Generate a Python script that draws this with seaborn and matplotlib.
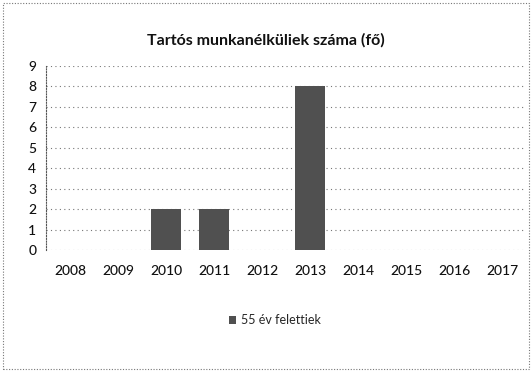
import matplotlib
matplotlib.use("Agg")
import matplotlib.pyplot as plt
from matplotlib.patches import Rectangle, Patch
import seaborn as sns
import pandas as pd

years = ["2008", "2009", "2010", "2011", "2012", "2013", "2014", "2015", "2016", "2017"]
over_55 = [0, 0, 2, 2, 0, 8, 0, 0, 0, 0]
y_ticks = list(range(0, 10))

title = "Tartós munkanélküliek száma (fő)"
series_name = "55 év felettiek"
bar_color = "#505050"

sns.set_theme(style="white")
plt.rcParams["font.family"] = ["Lato", "DejaVu Sans"]

df = pd.DataFrame({"year": years, "value": over_55})

fig = plt.figure(figsize=(5.32, 3.72), dpi=100)
ax = fig.add_axes([46 / 532, 1 - 250 / 372, 480 / 532, 184 / 372])

sns.barplot(data=df, x="year", y="value", color=bar_color, width=0.62,
            saturation=1, edgecolor="none", linewidth=0, ax=ax, zorder=3)

ax.set_ylim(0, 9)
ax.set_yticks(y_ticks)
ax.set_xlim(-0.5, len(years) - 0.5)
ax.yaxis.grid(True, linestyle=(0, (1, 3)), color="#777777", linewidth=0.8, zorder=0)
ax.xaxis.grid(False)
for side in ["top", "right", "bottom"]:
    ax.spines[side].set_visible(False)
ax.spines["left"].set_linestyle((0, (1, 1.5)))
ax.spines["left"].set_color("#555555")
ax.spines["left"].set_linewidth(0.8)
ax.tick_params(axis="x", length=0, labelsize=10, colors="#111111", pad=11)
ax.tick_params(axis="y", length=0, labelsize=10, colors="#111111", pad=7)
for lbl in ax.get_xticklabels() + ax.get_yticklabels():
    lbl.set_fontweight("medium")
ax.set_xlabel("")
ax.set_ylabel("")

fig.text(0.5, 1 - 40 / 372, title, ha="center", va="center", fontsize=11.5,
         fontweight="bold", color="#111111")

handles = [Patch(facecolor=bar_color, edgecolor="none", label=series_name)]
fig.legend(handles=handles, loc="center", bbox_to_anchor=(275 / 532, 1 - 320 / 372),
           frameon=False, fontsize=9, handlelength=0.6, handleheight=0.6,
           handletextpad=0.4)

fig.patches.append(Rectangle((3 / 532, 3 / 372), 526 / 532, 366 / 372,
                             transform=fig.transFigure, fill=False,
                             edgecolor="#777777", linestyle=(0, (1, 1.5)),
                             linewidth=0.8))

fig.savefig("out.png", dpi=100)
